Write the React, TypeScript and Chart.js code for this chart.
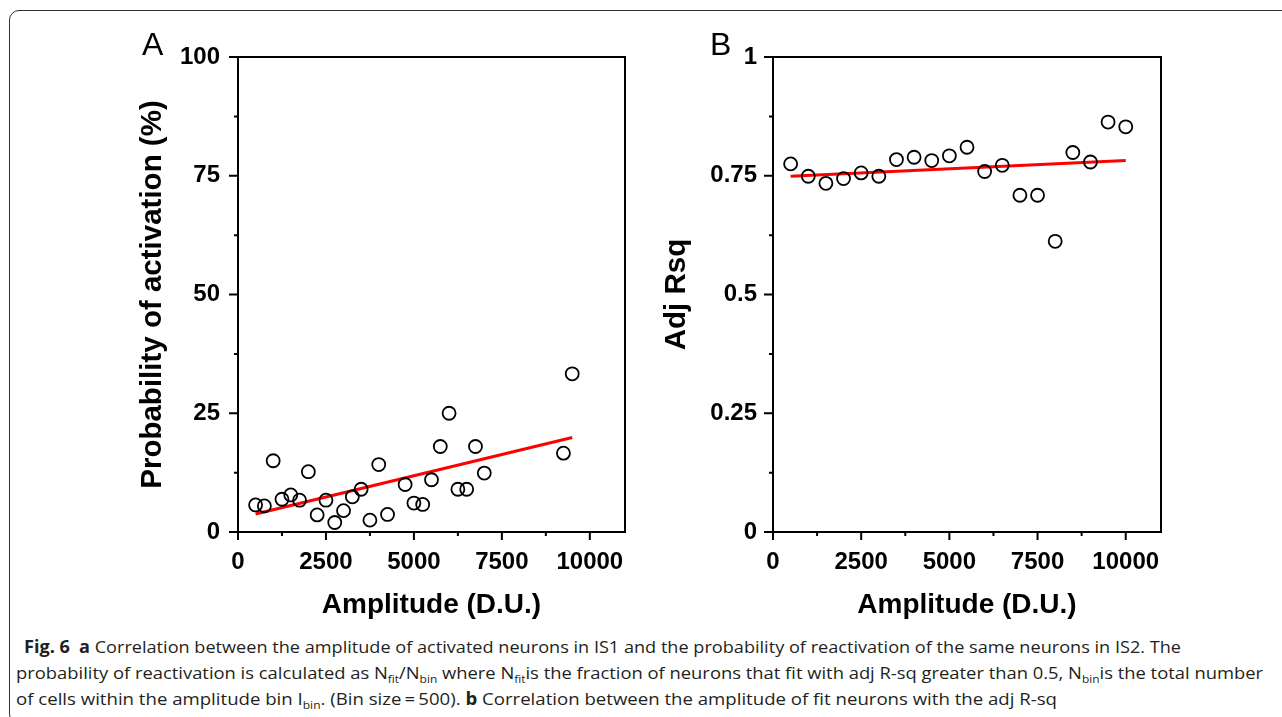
import React, { useEffect, useLayoutEffect, useRef } from "react";
import { Chart, registerables } from "chart.js";

Chart.register(...registerables);

// Panel A: probability of activation (%) per amplitude bin
const amplitudeA = [500, 750, 1000, 1250, 1500, 1750, 2000, 2250, 2500, 2750, 3000, 3250, 3500, 3750, 4000, 4250, 4750, 5000, 5250, 5500, 5750, 6000, 6250, 6500, 6750, 7000, 9250, 9500];
const probabilityA = [5.7, 5.5, 15.0, 6.9, 7.8, 6.7, 12.7, 3.6, 6.7, 2.0, 4.5, 7.4, 9.0, 2.5, 14.2, 3.7, 10.0, 6.1, 5.8, 11.0, 18.0, 25.0, 9.0, 9.0, 18.0, 12.4, 16.6, 33.3];
const fitAmplitudeA = [500, 9500];
const fitProbabilityA = [3.8, 19.9];

// Panel B: adjusted R-squared of fit neurons per amplitude bin
const amplitudeB = [500, 1000, 1500, 2000, 2500, 3000, 3500, 4000, 4500, 5000, 5500, 6000, 6500, 7000, 7500, 8000, 8500, 9000, 9500, 10000];
const adjRsqB = [0.775, 0.749, 0.734, 0.744, 0.756, 0.749, 0.784, 0.789, 0.782, 0.792, 0.81, 0.759, 0.772, 0.709, 0.709, 0.612, 0.799, 0.779, 0.863, 0.853];
const fitAmplitudeB = [500, 10000];
const fitAdjRsqB = [0.749, 0.782];

// Axis ticks
const xTicks = [0, 2500, 5000, 7500, 10000];
const yTicksA = [0, 25, 50, 75, 100];
const yTicksB = [0, 0.25, 0.5, 0.75, 1];

const ARIAL = '"Liberation Sans", Arial, Helvetica, sans-serif';

type Area = { left: number; top: number; right: number; bottom: number };

type PanelProps = {
  letter: string;
  letterDx: number;
  xs: number[];
  ys: number[];
  fitX: number[];
  fitY: number[];
  yTicks: number[];
  yMax: number;
  yTitle: string;
  left: number;
  top: number;
  width: number;
  height: number;
  area: Area;
  yLabelPad: number;
  yTitlePad: number;
};

function Panel(p: PanelProps) {
  const ref = useRef<HTMLCanvasElement>(null);

  useEffect(() => {
    const canvas = ref.current;
    if (!canvas) return;

    // Boxed axes with outward major/minor ticks and the panel letter
    const framePlugin = {
      id: "frame",
      afterDraw(chart: any) {
        const { ctx, chartArea: a, scales } = chart;
        const sx = scales.x;
        const sy = scales.y;
        ctx.save();
        ctx.strokeStyle = "#000";
        ctx.lineWidth = 2;
        ctx.strokeRect(a.left, a.top, a.right - a.left, a.bottom - a.top);
        ctx.beginPath();
        xTicks.forEach((v, i) => {
          const px = sx.getPixelForValue(v);
          ctx.moveTo(px, a.bottom);
          ctx.lineTo(px, a.bottom + 8);
          if (i < xTicks.length - 1) {
            const m = sx.getPixelForValue((v + xTicks[i + 1]) / 2);
            ctx.moveTo(m, a.bottom);
            ctx.lineTo(m, a.bottom + 4);
          }
        });
        p.yTicks.forEach((v, i) => {
          const py = sy.getPixelForValue(v);
          ctx.moveTo(a.left, py);
          ctx.lineTo(a.left - 9, py);
          if (i < p.yTicks.length - 1) {
            const m = sy.getPixelForValue((v + p.yTicks[i + 1]) / 2);
            ctx.moveTo(a.left, m);
            ctx.lineTo(a.left - 4, m);
          }
        });
        ctx.stroke();
        ctx.fillStyle = "#000";
        ctx.font = `32px ${ARIAL}`;
        ctx.textAlign = "left";
        ctx.textBaseline = "alphabetic";
        ctx.fillText(p.letter, a.left + p.letterDx, a.top - 2);
        ctx.restore();
      },
    };

    const tickFont = { family: ARIAL, size: 24, weight: "bold" as const };
    const xTitleFont = { family: ARIAL, size: 28, weight: "bold" as const };
    const yTitleFont = { family: ARIAL, size: 29.5, weight: "bold" as const };

    const chart = new Chart(canvas, {
      type: "scatter",
      data: {
        datasets: [
          {
            data: p.xs.map((x, i) => ({ x, y: p.ys[i] })),
            pointStyle: "circle",
            pointRadius: 6.5,
            pointBorderWidth: 1.8,
            pointBorderColor: "#000",
            pointBackgroundColor: "rgba(0,0,0,0)",
            showLine: false,
            order: 0,
          },
          {
            type: "line",
            data: p.fitX.map((x, i) => ({ x, y: p.fitY[i] })),
            borderColor: "#ff0000",
            borderWidth: 3,
            pointRadius: 0,
            fill: false,
            order: 1,
          } as any,
        ],
      },
      options: {
        animation: false,
        responsive: false,
        devicePixelRatio: 1,
        layout: {
          padding: { left: 0, top: p.area.top, right: p.width - p.area.right, bottom: 0 },
        },
        plugins: { legend: { display: false }, tooltip: { enabled: false } },
        scales: {
          x: {
            type: "linear",
            min: 0,
            max: 11000,
            grid: { display: false, drawTicks: false },
            border: { display: false },
            afterBuildTicks: (s: any) => {
              s.ticks = xTicks.map((v) => ({ value: v }));
            },
            afterFit: (s: any) => {
              s.height = p.height - p.area.bottom;
            },
            ticks: {
              padding: 16,
              color: "#000",
              font: tickFont,
              maxRotation: 0,
              autoSkip: false,
              callback: (v: any) => String(v),
            },
            title: {
              display: true,
              text: "Amplitude (D.U.)",
              color: "#000",
              font: xTitleFont,
              padding: { top: 0, bottom: 8 },
            },
          },
          y: {
            type: "linear",
            min: 0,
            max: p.yMax,
            grid: { display: false, drawTicks: false },
            border: { display: false },
            afterBuildTicks: (s: any) => {
              s.ticks = p.yTicks.map((v) => ({ value: v }));
            },
            afterFit: (s: any) => {
              s.width = p.area.left;
            },
            ticks: {
              padding: p.yLabelPad,
              color: "#000",
              font: tickFont,
              autoSkip: false,
              callback: (v: any) => String(v),
            },
            title: {
              display: true,
              text: p.yTitle,
              color: "#000",
              font: yTitleFont,
              padding: { top: p.yTitlePad, bottom: 0 },
            },
          },
        },
      },
      plugins: [framePlugin],
    } as any);

    return () => chart.destroy();
  }, []);

  return (
    <canvas
      ref={ref}
      width={p.width}
      height={p.height}
      style={{ position: "absolute", left: p.left, top: p.top, width: p.width, height: p.height }}
    />
  );
}

function CaptionLine({ left, top, right, children }: { left: number; top: number; right: number; children: React.ReactNode }) {
  const ref = useRef<HTMLDivElement>(null);
  useLayoutEffect(() => {
    const el = ref.current;
    if (!el) return;
    el.style.transform = "none";
    const w = el.getBoundingClientRect().width;
    if (w > 0) el.style.transform = `scaleX(${(right - left) / w})`;
  }, [left, right]);
  return (
    <div
      ref={ref}
      style={{
        position: "absolute",
        left,
        top,
        whiteSpace: "nowrap",
        transformOrigin: "0 0",
        lineHeight: "26px",
      }}
    >
      {children}
    </div>
  );
}

const subStyle: React.CSSProperties = { fontSize: 11, verticalAlign: -4, lineHeight: 0 };

export default function App() {
  return (
    <div
      style={{
        position: "fixed",
        left: 0,
        top: 0,
        width: 1282,
        height: 717,
        background: "#fff",
        overflow: "hidden",
      }}
    >
      <div
        style={{
          position: "absolute",
          left: 9,
          top: 10,
          width: 1320,
          height: 712,
          border: "1px solid #333",
          borderRadius: 10,
        }}
      />
      <Panel
        letter="A"
        letterDx={-96}
        xs={amplitudeA}
        ys={probabilityA}
        fitX={fitAmplitudeA}
        fitY={fitProbabilityA}
        yTicks={yTicksA}
        yMax={100}
        yTitle="Probability of activation (%)"
        left={130}
        top={20}
        width={520}
        height={610}
        area={{ left: 108, top: 37, right: 495, bottom: 512 }}
        yLabelPad={18}
        yTitlePad={5.5}
      />
      <Panel
        letter="B"
        letterDx={-63}
        xs={amplitudeB}
        ys={adjRsqB}
        fitX={fitAmplitudeB}
        fitY={fitAdjRsqB}
        yTicks={yTicksB}
        yMax={1}
        yTitle="Adj Rsq"
        left={650}
        top={20}
        width={530}
        height={610}
        area={{ left: 123, top: 37, right: 511, bottom: 512 }}
        yLabelPad={16}
        yTitlePad={9.5}
      />
      <div style={{ fontFamily: '"Open Sans", "Noto Sans", sans-serif', fontSize: 17, color: "#231f20" }}>
        <CaptionLine left={24} top={634} right={1181}>
          <b>Fig. 6</b>
          {"\u2002"}
          <b>a</b> Correlation between the amplitude of activated neurons in IS1 and the probability of reactivation of the same neurons in IS2. The
        </CaptionLine>
        <CaptionLine left={16} top={660} right={1263}>
          probability of reactivation is calculated as N<span style={subStyle}>fit</span>/N<span style={subStyle}>bin</span> where N
          <span style={subStyle}>fit</span>is the fraction of neurons that fit with adj R-sq greater than 0.5, N
          <span style={subStyle}>bin</span>is the total number
        </CaptionLine>
        <CaptionLine left={16} top={686} right={1057}>
          of cells within the amplitude bin I<span style={subStyle}>bin</span>. (Bin size{"\u2009"}={"\u2009"}500). <b>b</b> Correlation
          between the amplitude of fit neurons with the adj R-sq
        </CaptionLine>
      </div>
    </div>
  );
}
